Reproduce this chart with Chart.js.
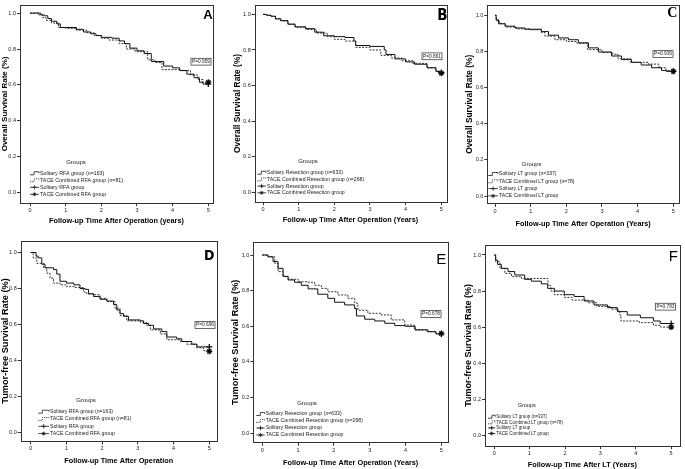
<!DOCTYPE html>
<html>
<head>
<meta charset="utf-8">
<title>Survival curves A-F</title>
<script src="https://cdn.jsdelivr.net/npm/chart.js@4.4.1/dist/chart.umd.min.js"></script>
<style>
  body { margin: 0; background: #fff; }
  #wrap { position: relative; width: 685px; height: 469px; overflow: hidden; background: #fff; }
  canvas { position: absolute; }
</style>
</head>
<body>
<div id="wrap">
  <canvas id="pA" width="228" height="235"></canvas>
  <canvas id="pB" width="227" height="235"></canvas>
  <canvas id="pC" width="230" height="235"></canvas>
  <canvas id="pD" width="228" height="234"></canvas>
  <canvas id="pE" width="227" height="234"></canvas>
  <canvas id="pF" width="230" height="234"></canvas>
</div>
<script>
// ======================================================================
// values: [time in years, survival rate]
var timeTicks = [0, 1, 2, 3, 4, 5];
var rateTicks = [0, 0.2, 0.4, 0.6, 0.8, 1.0];

// A - overall survival, RFA
var aSolitary = [[0,1],[0.3,0.99],[0.4,0.985],[0.5,0.97],[0.6,0.955],[0.75,0.94],[0.85,0.92],[1.3,0.91],[1.5,0.895],[1.7,0.885],[1.85,0.875],[2.0,0.865],[2.3,0.86],[2.5,0.845],[2.65,0.83],[2.8,0.805],[3.0,0.79],[3.2,0.775],[3.4,0.73],[3.75,0.705],[4.0,0.695],[4.2,0.68],[4.4,0.66],[4.6,0.64],[4.75,0.615],[4.85,0.605],[5,0.605]];
var aTace = [[0,1],[0.25,0.99],[0.35,0.975],[0.45,0.96],[0.6,0.945],[0.8,0.92],[1.0,0.915],[1.3,0.905],[1.6,0.89],[1.8,0.875],[2.0,0.86],[2.2,0.85],[2.5,0.83],[2.7,0.80],[2.95,0.785],[3.3,0.74],[3.5,0.725],[3.7,0.685],[4.2,0.68],[4.5,0.655],[4.7,0.63],[4.85,0.615],[5,0.615]];

// B - overall survival, resection
var bSolitary = [[0,1],[0.1,0.995],[0.23,0.99],[0.35,0.975],[0.5,0.965],[0.7,0.945],[0.9,0.93],[1.2,0.92],[1.45,0.90],[1.7,0.88],[2.0,0.875],[2.3,0.87],[2.55,0.85],[2.6,0.825],[3.0,0.82],[3.4,0.80],[3.45,0.775],[3.7,0.75],[4.0,0.733],[4.25,0.72],[4.6,0.70],[4.85,0.68],[4.95,0.673],[5,0.673]];
var bTace = [[0,1],[0.1,0.995],[0.23,0.988],[0.35,0.975],[0.5,0.963],[0.7,0.945],[0.9,0.928],[1.2,0.915],[1.5,0.895],[1.8,0.875],[2.0,0.86],[2.3,0.85],[2.6,0.815],[3.0,0.80],[3.3,0.77],[3.6,0.755],[3.9,0.74],[4.2,0.725],[4.6,0.70],[4.85,0.68],[4.95,0.67],[5,0.67]];

// C - overall survival, LT
var cSolitary = [[0,1],[0.03,0.975],[0.1,0.953],[0.28,0.94],[0.56,0.93],[0.84,0.923],[1.3,0.91],[1.5,0.89],[1.78,0.875],[2.06,0.865],[2.34,0.848],[2.62,0.82],[2.9,0.797],[3.27,0.775],[3.55,0.755],[3.83,0.74],[4.1,0.725],[4.39,0.71],[4.67,0.695],[4.8,0.69],[5,0.69]];
var cTace = [[0,1],[0.04,0.97],[0.12,0.955],[0.3,0.935],[0.6,0.925],[1.0,0.92],[1.3,0.905],[1.4,0.885],[1.68,0.865],[2.0,0.855],[2.3,0.845],[2.6,0.81],[3.0,0.795],[3.3,0.785],[3.45,0.76],[3.8,0.74],[4.3,0.73],[4.6,0.71],[4.8,0.695],[4.9,0.69],[5,0.69]];

// D - tumor-free survival, RFA
var dSolitary = [[0,1],[0.15,0.98],[0.21,0.97],[0.31,0.935],[0.4,0.915],[0.64,0.905],[0.73,0.88],[0.82,0.84],[1.0,0.83],[1.21,0.82],[1.38,0.80],[1.52,0.795],[1.62,0.77],[1.76,0.755],[1.94,0.74],[2.13,0.73],[2.32,0.71],[2.41,0.68],[2.5,0.66],[2.6,0.645],[2.74,0.625],[3.07,0.62],[3.16,0.605],[3.3,0.595],[3.44,0.575],[3.67,0.56],[3.81,0.53],[4.09,0.52],[4.23,0.505],[4.51,0.49],[4.65,0.475],[5,0.475]];
var dTace = [[0,1],[0.07,0.97],[0.17,0.94],[0.36,0.915],[0.45,0.885],[0.54,0.857],[0.64,0.83],[0.82,0.82],[1.0,0.81],[1.24,0.805],[1.47,0.78],[1.57,0.77],[1.76,0.765],[1.94,0.745],[2.13,0.727],[2.36,0.69],[2.5,0.65],[2.69,0.62],[3.07,0.612],[3.25,0.595],[3.35,0.57],[3.63,0.547],[3.81,0.515],[4.19,0.505],[4.37,0.49],[4.65,0.47],[4.84,0.455],[4.92,0.45],[5,0.45]];

// E - tumor-free survival, resection
var eSolitary = [[0,1],[0.16,0.99],[0.3,0.963],[0.44,0.925],[0.58,0.88],[0.72,0.86],[0.9,0.847],[1.09,0.83],[1.28,0.81],[1.55,0.78],[1.83,0.757],[2.02,0.735],[2.3,0.72],[2.58,0.70],[2.63,0.658],[2.86,0.64],[3.14,0.63],[3.42,0.617],[3.7,0.604],[3.99,0.60],[4.27,0.58],[4.63,0.57],[4.85,0.557],[5,0.557]];
var eTace = [[0,1],[0.16,0.99],[0.35,0.953],[0.44,0.907],[0.58,0.88],[0.72,0.864],[1.0,0.85],[1.28,0.847],[1.46,0.83],[1.65,0.813],[1.83,0.794],[2.11,0.776],[2.39,0.757],[2.58,0.73],[2.67,0.69],[2.95,0.673],[3.32,0.664],[3.6,0.636],[3.98,0.607],[4.25,0.58],[4.6,0.57],[4.85,0.56],[5,0.56]];

// F - tumor-free survival, LT
var fSolitary = [[0,1],[0.04,0.972],[0.09,0.948],[0.2,0.926],[0.39,0.908],[0.58,0.889],[0.86,0.865],[1.05,0.855],[1.33,0.84],[1.51,0.815],[1.7,0.80],[1.98,0.78],[2.26,0.77],[2.54,0.745],[2.82,0.723],[3.2,0.708],[3.48,0.686],[3.76,0.667],[4.13,0.652],[4.5,0.634],[4.69,0.62],[5,0.62]];
var fTace = [[0,1],[0.04,0.963],[0.16,0.926],[0.3,0.898],[0.49,0.88],[0.77,0.87],[1.52,0.83],[1.6,0.80],[1.7,0.78],[1.98,0.765],[2.2,0.75],[2.65,0.735],[2.9,0.715],[3.3,0.70],[3.5,0.69],[3.55,0.667],[3.58,0.634],[4.1,0.625],[4.5,0.61],[4.7,0.60],[5,0.60]];

var rfaGroups = ["Solitary RFA group (n=163)", "TACE Combined RFA group (n=81)", "Solitary RFA group", "TACE Combined RFA group"];
var resectionGroups = ["Solitary Resection group (n=633)", "TACE Combined Resection group (n=268)", "Solitary Resection group", "TACE Combined Resection group"];
var ltGroups = ["Solitary LT group (n=337)", "TACE Combined LT group (n=78)", "Solitary LT group", "TACE Combined LT group"];

var overallTitle = "Overall Survival Rate (%)";
var tumorTitle = "Tumor-free Survival Rate (%)";
var pValues = ["P=0.959", "P=0.861", "P=0.939", "P=0.696", "P=0.678", "P=0.783"];

// ======================================================================
// layout of each panel, pixels inside its own canvas
var SANS = '"Liberation Sans", Arial, sans-serif';
var NARROW = '"Liberation Sans Narrow", "DejaVu Sans Condensed", "Liberation Sans", sans-serif';
Chart.defaults.font.family = SANS;

var panels = [
  { id: 'pA', letter: 'A', solid: aSolitary, dashed: aTace, groups: rfaGroups, yTitle: overallTitle,
    xTitle: "Follow-up Time After Operation (years)", p: pValues[0],
    box: [0, 0, 228, 235], area: [20, 3, 213, 202.7], xpx: [30, 208.3], ypx: [11, 192.5],
    yTitleX: 5, yTitleSize: 8, xTitleY: 221,
    pPos: [201, 61.7], letterPos: [208, 15], letterFont: 'bold 13px ' + SANS,
    legend: { gx: 76, gy: 162.7, y0: 173.3, dy: 7, sx: 30, tx: 40, fs: 5.3, gs: 6 } },
  { id: 'pB', letter: 'B', solid: bSolitary, dashed: bTace, groups: resectionGroups, yTitle: overallTitle,
    xTitle: "Follow-up Time After Operation (Years)", p: pValues[1],
    box: [228, 0, 227, 235], area: [26.7, 2.7, 218.3, 201.7], xpx: [35, 213.3], ypx: [12, 192.3],
    yTitleX: 10, yTitleSize: 8.4, xTitleY: 220,
    pPos: [204, 56.3], letterPos: [214.3, 16.5], letterFont: 'bold 15px ' + NARROW,
    legend: { gx: 80, gy: 161, y0: 172.7, dy: 6.7, sx: 29.3, tx: 39, fs: 5.2, gs: 6 } },
  { id: 'pC', letter: 'C', solid: cSolitary, dashed: cTace, groups: ltGroups, yTitle: overallTitle,
    xTitle: "Follow-up Time After Operation (Years)", p: pValues[2],
    box: [455, 0, 230, 235], area: [32.3, 1.7, 224, 203.3], xpx: [40, 218.3], ypx: [12, 196],
    yTitleX: 15, yTitleSize: 8.4, xTitleY: 224,
    pPos: [208, 54], letterPos: [217.3, 13.2], letterFont: 'bold 14px "Liberation Serif", serif',
    legend: { gx: 76.7, gy: 164, y0: 174, dy: 7.3, sx: 33.3, tx: 44, fs: 5.1, gs: 6 } },
  { id: 'pD', letter: 'D', solid: dSolitary, dashed: dTace, groups: rfaGroups, yTitle: tumorTitle,
    xTitle: "Follow-up Time After Operation", p: pValues[3],
    box: [0, 235, 228, 234], area: [20.7, 6, 216.7, 206], xpx: [30.7, 209.3], ypx: [17.5, 197.3],
    yTitleX: 5, yTitleSize: 9.2, xTitleY: 225.7,
    pPos: [205, 90], letterPos: [209.3, 21.2], letterFont: 'bold 14px ' + NARROW,
    legend: { gx: 86, gy: 165, y0: 176.7, dy: 7.3, sx: 38.3, tx: 50, fs: 5.2, gs: 6 } },
  { id: 'pE', letter: 'E', solid: eSolitary, dashed: eTace, groups: resectionGroups, yTitle: tumorTitle,
    xTitle: "Follow-up Time After Operation (Years)", p: pValues[4],
    box: [228, 235, 227, 234], area: [25.3, 7.3, 220, 207.3], xpx: [34.3, 213.3], ypx: [20, 198.3],
    yTitleX: 7.3, yTitleSize: 9.2, xTitleY: 227.7,
    pPos: [203, 79], letterPos: [213.3, 24.5], letterFont: '15px ' + SANS,
    legend: { gx: 79, gy: 168.3, y0: 179, dy: 7, sx: 28.3, tx: 37.7, fs: 5.2, gs: 6 } },
  { id: 'pF', letter: 'F', solid: fSolitary, dashed: fTace, groups: ltGroups, yTitle: tumorTitle,
    xTitle: "Follow-up Time After LT (Years)", p: pValues[5],
    box: [455, 235, 230, 234], area: [30, 10, 226, 210.7], xpx: [39.3, 217.3], ypx: [20, 200.3],
    yTitleX: 13.3, yTitleSize: 9, xTitleY: 230,
    pPos: [210.5, 71.7], letterPos: [218.3, 22.2], letterFont: '15px ' + SANS,
    legend: { gx: 71.7, gy: 170.7, y0: 181.7, dy: 5.6, sx: 33, tx: 41.3, fs: 4.5, gs: 5.5 } }
];

var INK = '#1a1a1a';

function toXY(arr) {
    return arr.map(function (d) { return { x: d[0], y: d[1] }; });
}

function drawPlus(ctx, x, y, r) {
    ctx.beginPath();
    ctx.moveTo(x - r, y); ctx.lineTo(x + r, y);
    ctx.moveTo(x, y - r); ctx.lineTo(x, y + r);
    ctx.stroke();
}

function drawStar(ctx, x, y, r) {
    drawPlus(ctx, x, y, r);
    var k = r * 0.7;
    ctx.beginPath();
    ctx.moveTo(x - k, y - k); ctx.lineTo(x + k, y + k);
    ctx.moveTo(x - k, y + k); ctx.lineTo(x + k, y - k);
    ctx.stroke();
}

// frame, legend, p-value box and panel letter
function makeDecor(p) {
    return {
        id: 'decor' + p.letter,
        afterDraw: function (chart) {
            var ctx = chart.ctx;
            var a = chart.chartArea;
            ctx.save();
            ctx.strokeStyle = '#333';
            ctx.lineWidth = 1;
            ctx.strokeRect(Math.round(a.left) + 0.5, Math.round(a.top) + 0.5,
                Math.round(a.right - a.left), Math.round(a.bottom - a.top));

            // legend
            var lg = p.legend;
            ctx.fillStyle = INK;
            ctx.strokeStyle = INK;
            ctx.textBaseline = 'middle';
            ctx.textAlign = 'center';
            ctx.font = lg.gs + 'px ' + SANS;
            ctx.fillText('Groups', lg.gx, lg.gy);
            ctx.textAlign = 'left';
            ctx.font = lg.fs + 'px ' + SANS;
            p.groups.forEach(function (name, i) {
                var y = lg.y0 + i * lg.dy;
                var x1 = lg.tx - 1;
                ctx.fillText(name, lg.tx, y);
                ctx.lineWidth = 0.8;
                ctx.setLineDash(i == 1 ? [1.2, 1] : []);
                ctx.beginPath();
                if (i < 2) {
                    ctx.moveTo(lg.sx, y + 1.5);
                    ctx.lineTo(lg.sx + 4, y + 1.5);
                    ctx.lineTo(lg.sx + 4, y - 1.5);
                    ctx.lineTo(x1, y - 1.5);
                    ctx.lineTo(x1, y);
                } else {
                    ctx.moveTo(lg.sx, y);
                    ctx.lineTo(x1, y);
                }
                ctx.stroke();
                ctx.setLineDash([]);
                if (i == 2) drawPlus(ctx, (lg.sx + x1) / 2, y, 2.2);
                if (i == 3) drawStar(ctx, (lg.sx + x1) / 2, y, 2);
            });

            // p value
            ctx.font = '4.8px ' + SANS;
            ctx.textAlign = 'center';
            var w = ctx.measureText(p.p).width;
            ctx.fillText(p.p, p.pPos[0], p.pPos[1]);
            ctx.lineWidth = 0.8;
            ctx.strokeStyle = '#444';
            ctx.strokeRect(p.pPos[0] - w / 2 - 1, p.pPos[1] - 3.4, w + 2, 6.8);

            // panel letter
            ctx.fillStyle = '#000';
            ctx.font = p.letterFont;
            ctx.fillText(p.letter, p.letterPos[0], p.letterPos[1]);
            ctx.restore();
        }
    };
}

panels.forEach(function (p) {
    var cv = document.getElementById(p.id);
    cv.style.left = p.box[0] + 'px';
    cv.style.top = p.box[1] + 'px';
    var W = p.box[2], H = p.box[3];
    var L = p.area[0], T = p.area[1], R = p.area[2], B = p.area[3];
    var xu = (p.xpx[1] - p.xpx[0]) / 5;
    var yu = p.ypx[1] - p.ypx[0];
    var xTitleSize = 7.3;
    var padBottom = H - p.xTitleY - xTitleSize * 1.2 / 2;
    var yTitlePad = p.yTitleX - p.yTitleSize * 1.2 / 2;
    var lastSolid = p.solid[p.solid.length - 1];
    var lastDashed = p.dashed[p.dashed.length - 1];

    new Chart(cv, {
        type: 'line',
        data: {
            datasets: [{
                label: p.groups[0],
                data: toXY(p.solid),
                stepped: true,
                borderColor: '#111',
                borderWidth: 1,
                pointRadius: 0,
                fill: false
            },
            {
                label: p.groups[1],
                data: toXY(p.dashed),
                stepped: true,
                borderColor: '#333',
                borderWidth: 1,
                borderDash: [2, 1.3],
                pointRadius: 0,
                fill: false
            },
            {
                label: p.groups[2],
                data: toXY([lastSolid]),
                showLine: false,
                pointStyle: 'cross',
                pointRadius: 3,
                borderColor: '#000',
                borderWidth: 1.2
            },
            {
                label: p.groups[3],
                data: toXY([lastDashed]),
                showLine: false,
                pointStyle: 'star',
                pointRadius: 3,
                borderColor: '#000',
                borderWidth: 1.2
            }]
        },
        options: {
            responsive: false,
            animation: false,
            layout: { padding: { left: 0, top: T, right: W - R, bottom: padBottom } },
            plugins: { legend: { display: false }, tooltip: { enabled: false } },
            scales: {
                x: {
                    type: 'linear',
                    min: -(p.xpx[0] - L) / xu,
                    max: 5 + (R - p.xpx[1]) / xu,
                    afterBuildTicks: function (s) { s.ticks = timeTicks.map(function (v) { return { value: v }; }); },
                    afterFit: function (s) { s.height = H - padBottom - B; },
                    grid: { drawOnChartArea: false, tickLength: 3.5, color: '#333' },
                    border: { display: false },
                    ticks: { autoSkip: false, maxRotation: 0, padding: 1, color: INK, font: { size: 5.5 },
                        callback: function (v) { return String(v); } },
                    title: { display: true, text: p.xTitle, color: '#000', padding: 0,
                        font: { size: xTitleSize, weight: 'bold' } }
                },
                y: {
                    min: -(B - p.ypx[1]) / yu,
                    max: 1 + (p.ypx[0] - T) / yu,
                    afterBuildTicks: function (s) { s.ticks = rateTicks.map(function (v) { return { value: v }; }); },
                    afterFit: function (s) { s.width = L; },
                    grid: { drawOnChartArea: false, tickLength: 3, color: '#333' },
                    border: { display: false },
                    ticks: { autoSkip: false, padding: 1, color: INK, font: { size: 5.5 },
                        callback: function (v) { return v.toFixed(1); } },
                    title: { display: true, text: p.yTitle, color: '#000', padding: { top: yTitlePad, bottom: 0 },
                        font: { size: p.yTitleSize, weight: 'bold' } }
                }
            }
        },
        plugins: [makeDecor(p)]
    });
});
</script>
</body>
</html>
